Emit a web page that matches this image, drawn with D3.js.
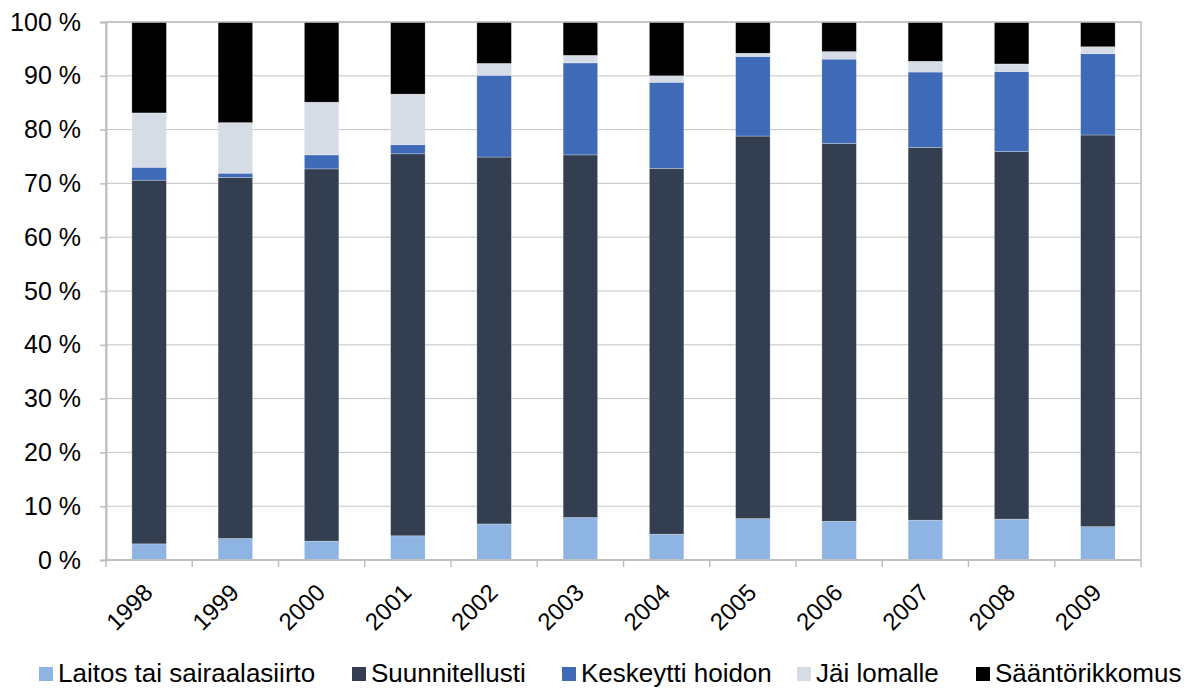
<!DOCTYPE html>
<html>
<head>
<meta charset="utf-8">
<script src="https://cdn.jsdelivr.net/npm/d3@7"></script>
<style>
  html, body { margin: 0; padding: 0; background: #fff; }
  svg text { font-family: "Liberation Sans", Arial, sans-serif; fill: #000; }
</style>
</head>
<body>
<svg id="chart" width="1195" height="688"></svg>
<script>
// Years on the x axis
const years = ["1998","1999","2000","2001","2002","2003","2004","2005","2006","2007","2008","2009"];

// Series names (stack order, bottom to top)
const seriesNames = ["Laitos tai sairaalasiirto", "Suunnitellusti", "Keskeytti hoidon", "Jäi lomalle", "Sääntörikkomus"];

// Share of each outcome per year (%)
const laitos         = [3.0, 4.0, 3.5, 4.5, 6.7, 7.9, 4.8, 7.7, 7.2, 7.4, 7.6, 6.2];
const suunnitellusti = [67.6, 67.1, 69.2, 71.0, 68.2, 67.4, 68.0, 71.1, 70.2, 69.3, 68.3, 72.8];
const keskeytti      = [2.4, 0.8, 2.6, 1.7, 15.2, 17.1, 16.0, 14.8, 15.7, 14.0, 14.9, 15.1];
const jaiLomalle     = [10.1, 9.4, 9.8, 9.4, 2.2, 1.4, 1.2, 0.6, 1.4, 2.0, 1.4, 1.3];
const saantorikkomus = [16.9, 18.7, 14.9, 13.4, 7.7, 6.2, 10.0, 5.8, 5.5, 7.3, 7.8, 4.6];

// Y axis tick values and labels
const yTicks = [0, 10, 20, 30, 40, 50, 60, 70, 80, 90, 100];
const yTickLabels = ["0 %", "10 %", "20 %", "30 %", "40 %", "50 %", "60 %", "70 %", "80 %", "90 %", "100 %"];

const colors = ["#8EB4E3", "#333F50", "#3E6AB8", "#D5DCE6", "#000000"];

// Build table rows for the stack generator
const seriesValues = [laitos, suunnitellusti, keskeytti, jaiLomalle, saantorikkomus];
const rows = years.map((y, i) => {
  const r = { year: y };
  seriesNames.forEach((n, k) => { r[n] = seriesValues[k][i]; });
  return r;
});

const svg = d3.select("#chart");
const plot = { left: 106, right: 1141, top: 22, bottom: 560 };

const x = d3.scaleBand()
  .domain(years)
  .range([plot.left, plot.right])
  .paddingInner(0.6)
  .paddingOuter(0.3);

const y = d3.scaleLinear()
  .domain([0, 100])
  .range([plot.bottom, plot.top]);

// Horizontal gridlines
svg.append("g")
  .selectAll("line")
  .data(yTicks)
  .join("line")
  .attr("x1", plot.left).attr("x2", plot.right)
  .attr("y1", d => y(d)).attr("y2", d => y(d))
  .attr("stroke", "#C4C4C4")
  .attr("stroke-width", 1);

// Stacked bars
const stacked = d3.stack().keys(seriesNames)(rows);
svg.append("g")
  .selectAll("g")
  .data(stacked)
  .join("g")
  .attr("fill", (d, i) => colors[i])
  .selectAll("rect")
  .data(d => d)
  .join("rect")
  .attr("x", d => x(d.data.year))
  .attr("width", x.bandwidth())
  .attr("y", d => y(d[1]))
  .attr("height", d => y(d[0]) - y(d[1]))
  .attr("stroke", "rgba(255,255,255,0.45)")
  .attr("stroke-width", 0.6);

// Plot-area border
svg.append("rect")
  .attr("x", plot.left).attr("y", plot.top)
  .attr("width", plot.right - plot.left)
  .attr("height", plot.bottom - plot.top)
  .attr("fill", "none")
  .attr("stroke", "#BFBFBF")
  .attr("stroke-width", 1.5);

// Y axis
const yAxis = d3.axisLeft(y)
  .tickValues(yTicks)
  .tickFormat((d, i) => yTickLabels[i])
  .tickSize(6)
  .tickPadding(19);
const gy = svg.append("g")
  .attr("transform", `translate(${plot.left},0)`)
  .call(yAxis);
gy.select(".domain").attr("stroke", "#BFBFBF").attr("stroke-width", 2);
gy.selectAll(".tick line").attr("stroke", "#BFBFBF").attr("stroke-width", 1.5);
gy.selectAll(".tick text")
  .attr("font-size", 25)
  .attr("font-family", "Liberation Sans, Arial, sans-serif")
  .attr("fill", "#000");

// X axis: tick marks between categories
const boundaries = d3.range(years.length + 1).map(i => plot.left + i * x.step());
svg.append("g")
  .selectAll("line")
  .data(boundaries)
  .join("line")
  .attr("x1", d => d).attr("x2", d => d)
  .attr("y1", plot.bottom).attr("y2", plot.bottom + 7)
  .attr("stroke", "#BFBFBF")
  .attr("stroke-width", 1.5);
svg.append("line")
  .attr("x1", plot.left).attr("x2", plot.right)
  .attr("y1", plot.bottom).attr("y2", plot.bottom)
  .attr("stroke", "#BFBFBF").attr("stroke-width", 2);

// Rotated year labels
svg.append("g")
  .selectAll("text")
  .data(years)
  .join("text")
  .attr("transform", d => `translate(${x(d) + x.bandwidth() / 2 + 5},${plot.bottom + 34}) rotate(-45)`)
  .attr("text-anchor", "end")
  .attr("font-size", 24)
  .text(d => d);

// Legend: swatch left edges for each entry
const legendX = [39, 352, 562, 797, 976];
const legend = svg.append("g").attr("transform", "translate(0,674)");
seriesNames.forEach((name, i) => {
  const item = legend.append("g").attr("transform", `translate(${legendX[i]},0)`);
  item.append("rect")
    .attr("x", 0).attr("y", -7)
    .attr("width", 14).attr("height", 14)
    .attr("fill", colors[i]);
  item.append("text")
    .attr("x", 19).attr("y", 8)
    .attr("font-size", 26)
    .text(name);
});
</script>
</body>
</html>
